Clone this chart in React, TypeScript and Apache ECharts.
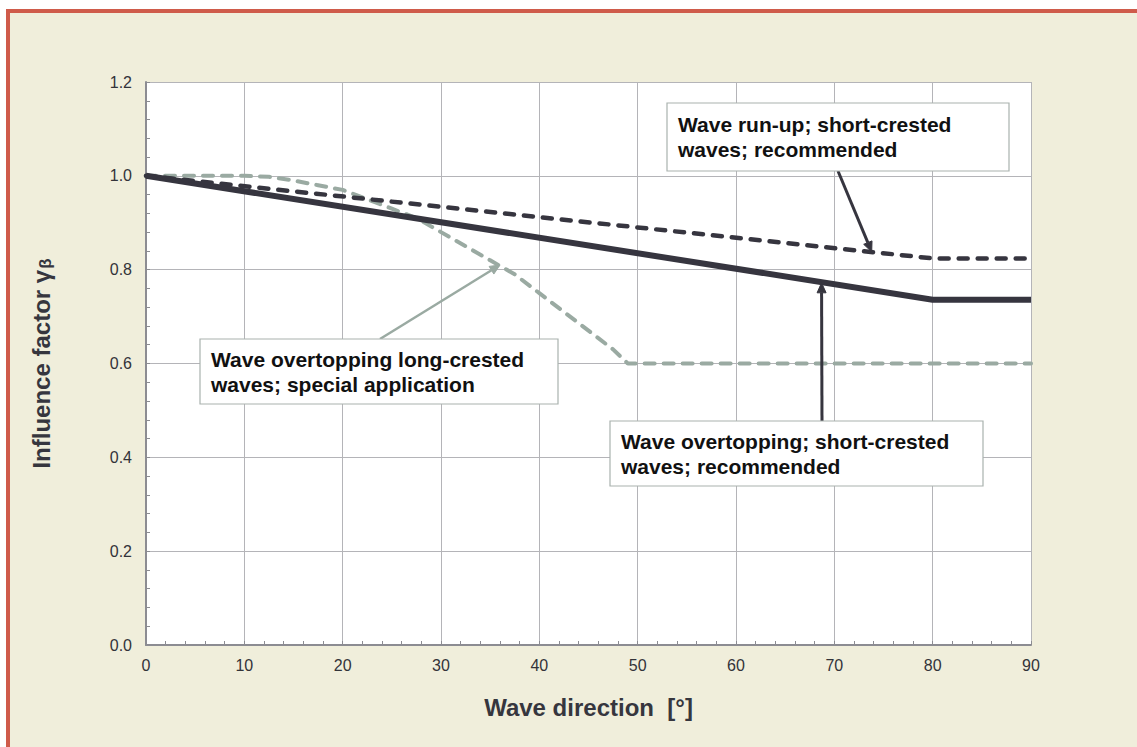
import React, { useEffect, useRef } from "react";
import * as echarts from "echarts";

// Wave direction [°] vs influence factor
const overtopShortX = [0, 80, 90];
const overtopShortY = [1.0, 0.736, 0.736];

const runupShortX = [0, 80, 90];
const runupShortY = [1.0, 0.824, 0.824];

const overtopLongX = [0, 5, 10, 12.5, 15, 17.5, 20, 22.5, 25, 27.5, 30, 32.5, 35, 37.5, 40, 42.5, 45, 47.5, 49, 50, 90];
const overtopLongY = [1.0, 1.0, 1.0, 0.998, 0.99, 0.98, 0.97, 0.95, 0.93, 0.91, 0.88, 0.85, 0.82, 0.79, 0.75, 0.71, 0.67, 0.63, 0.6, 0.6, 0.6];

const annotationTexts = [
  "Wave run-up; short-crested\nwaves; recommended",
  "Wave overtopping long-crested\nwaves; special application",
  "Wave overtopping; short-crested\nwaves; recommended",
];
// arrow tips in data space
const arrowTipX = [73.8, 36, 68.7];
const arrowTipY = [0.838, 0.81, 0.772];

const DARK = "#36353f";
const GREY = "#9aaaa2";
const FONT = "Arial, 'Liberation Sans', sans-serif";

const zip = (xs: number[], ys: number[]) => xs.map((x, i) => [x, ys[i]]);

export default function App() {
  const ref = useRef<HTMLDivElement>(null);
  useEffect(() => {
    if (!ref.current) return;
    const chart = echarts.init(ref.current, null, { renderer: "svg" });
    const axisColor = "#8c8c92";
    const gridColor = "#b4b4b8";
    const labelColor = "#333339";
    const option: any = {
      animation: false,
      grid: {
        left: 146,
        top: 82,
        right: 106,
        bottom: 102,
        show: true,
        backgroundColor: "#ffffff",
        borderWidth: 0,
      },
      xAxis: {
        type: "value",
        min: 0,
        max: 90,
        interval: 10,
        name: "Wave direction  [°]",
        nameLocation: "middle",
        nameGap: 50,
        nameTextStyle: { fontFamily: FONT, fontWeight: "bold", fontSize: 24, color: "#36363e" },
        axisLine: { show: true, lineStyle: { color: axisColor, width: 2 } },
        axisTick: { show: true, inside: true, length: 4, lineStyle: { color: axisColor } },
        minorTick: { show: true, splitNumber: 5, length: 4, lineStyle: { color: axisColor } },
        axisLabel: { fontFamily: FONT, fontSize: 16, color: labelColor, margin: 12 },
        splitLine: { show: true, lineStyle: { color: gridColor, width: 1 } },
      },
      yAxis: {
        type: "value",
        min: 0,
        max: 1.2,
        interval: 0.2,
        name: "{a|Influence factor γ}{b|β}",
        nameLocation: "middle",
        nameGap: 92,
        nameRotate: 90,
        nameTextStyle: {
          rich: {
            a: { fontFamily: FONT, fontWeight: "bold", fontSize: 24, color: "#36363e" },
            b: { fontFamily: FONT, fontWeight: "bold", fontSize: 17, color: "#36363e", padding: [8, 0, 0, 1] },
          },
        },
        axisLine: { show: true, lineStyle: { color: axisColor, width: 2 } },
        axisTick: { show: true, inside: true, length: 4, lineStyle: { color: axisColor } },
        minorTick: { show: true, splitNumber: 5, length: 4, lineStyle: { color: axisColor } },
        axisLabel: {
          fontFamily: FONT,
          fontSize: 16,
          color: labelColor,
          margin: 14,
          formatter: (v: number) => v.toFixed(1),
        },
        splitLine: { show: true, lineStyle: { color: gridColor, width: 1 } },
      },
      series: [
        {
          name: "Wave overtopping long-crested",
          type: "line",
          data: zip(overtopLongX, overtopLongY),
          symbol: "none",
          lineStyle: { color: GREY, width: 4, type: [10, 9], cap: "round" },
          z: 3,
        },
        {
          name: "Wave overtopping short-crested",
          type: "line",
          data: zip(overtopShortX, overtopShortY),
          symbol: "none",
          lineStyle: { color: DARK, width: 6 },
          z: 4,
        },
        {
          name: "Wave run-up short-crested",
          type: "line",
          data: zip(runupShortX, runupShortY),
          symbol: "none",
          lineStyle: { color: DARK, width: 4.5, type: [9, 10], cap: "round" },
          z: 5,
        },
      ],
    };
    chart.setOption(option);

    const boxes = [
      { x: 667, y: 103, w: 342, h: 68, fromX: 838, fromY: 171, color: DARK },
      { x: 200, y: 339, w: 358, h: 65, fromX: 380, fromY: 339, color: GREY },
      { x: 610, y: 421, w: 373, h: 65, fromX: 822, fromY: 421, color: DARK },
    ];
    const graphics: any[] = [];
    boxes.forEach((b, i) => {
      const tip = chart.convertToPixel({ xAxisIndex: 0, yAxisIndex: 0 }, [arrowTipX[i], arrowTipY[i]]) as number[];
      const dx = tip[0] - b.fromX;
      const dy = tip[1] - b.fromY;
      const len = Math.sqrt(dx * dx + dy * dy);
      const ux = dx / len;
      const uy = dy / len;
      const headL = 10;
      const headW = 4.5;
      const bx = tip[0] - ux * headL;
      const by = tip[1] - uy * headL;
      graphics.push({
        type: "line",
        z: 100,
        shape: { x1: b.fromX, y1: b.fromY, x2: bx, y2: by },
        style: { stroke: b.color, lineWidth: i === 1 ? 2.5 : 3 },
      });
      graphics.push({
        type: "polygon",
        z: 100,
        shape: {
          points: [
            [tip[0], tip[1]],
            [bx - uy * headW, by + ux * headW],
            [bx + uy * headW, by - ux * headW],
          ],
        },
        style: { fill: b.color, stroke: b.color, lineWidth: 1 },
      });
      graphics.push({
        type: "rect",
        z: 101,
        shape: { x: b.x, y: b.y, width: b.w, height: b.h },
        style: { fill: "#ffffff", stroke: "#a9b2ae", lineWidth: 1.2 },
      });
      graphics.push({
        type: "text",
        z: 102,
        x: b.x + 11,
        y: b.y + b.h / 2,
        style: {
          text: annotationTexts[i],
          font: "bold 21px Arial, 'Liberation Sans', sans-serif",
          fill: "#111111",
          lineHeight: 25,
          verticalAlign: "middle",
          align: "left",
        },
      });
    });
    chart.setOption({ graphic: graphics });

    return () => chart.dispose();
  }, []);

  return (
    <div
      style={{
        position: "absolute",
        left: 0,
        top: 0,
        width: 1137,
        height: 747,
        background: "#ffffff",
        overflow: "hidden",
      }}
    >
      <div
        style={{
          position: "absolute",
          left: 6,
          top: 9,
          width: 1200,
          height: 800,
          background: "#f0eedb",
          border: "4px solid #cf5b4a",
          boxSizing: "border-box",
        }}
      />
      <div ref={ref} style={{ position: "absolute", left: 0, top: 0, width: 1137, height: 747 }} />
    </div>
  );
}
